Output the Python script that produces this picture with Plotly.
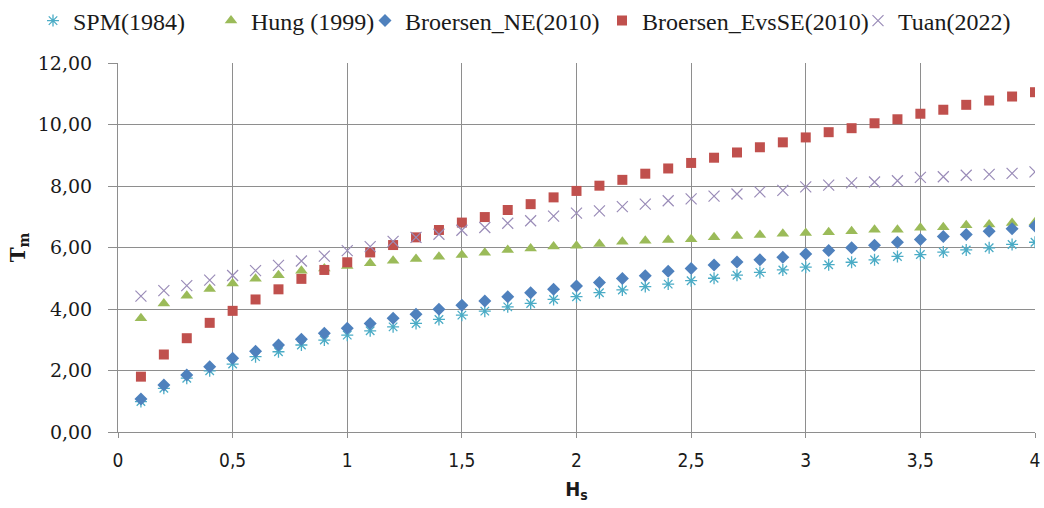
import plotly.graph_objects as go

hs = [round(0.1 * i, 1) for i in range(1, 41)]

spm = [0.99, 1.42, 1.75, 1.99, 2.21, 2.45, 2.61, 2.83, 2.99, 3.15, 3.29, 3.42,
       3.53, 3.66, 3.80, 3.93, 4.07, 4.18, 4.31, 4.40, 4.53, 4.62, 4.73, 4.81, 4.92, 5.00, 5.10,
       5.19, 5.27, 5.36, 5.44, 5.52, 5.60, 5.71, 5.77, 5.85, 5.92, 5.99, 6.10, 6.17]

hung = [3.70, 4.18, 4.43, 4.65, 4.83, 4.98, 5.10, 5.24, 5.32, 5.40, 5.49, 5.57,
        5.63, 5.70, 5.76, 5.83, 5.92, 5.97, 6.03, 6.06, 6.11, 6.19, 6.22, 6.24, 6.27, 6.33, 6.37,
        6.41, 6.45, 6.47, 6.50, 6.53, 6.58, 6.58, 6.64, 6.66, 6.72, 6.75, 6.80, 6.82]

broersen_ne = [1.07, 1.53, 1.85, 2.12, 2.40, 2.63, 2.83, 3.02, 3.21, 3.37, 3.53, 3.70,
               3.83, 3.99, 4.12, 4.26, 4.40, 4.53, 4.64, 4.75, 4.86, 4.99, 5.08, 5.23, 5.32, 5.43, 5.53,
               5.60, 5.68, 5.79, 5.90, 5.99, 6.07, 6.17, 6.26, 6.36, 6.42, 6.53, 6.61, 6.70]

broersen_evsse = [1.80, 2.52, 3.05, 3.55, 3.94, 4.31, 4.64, 4.98, 5.27, 5.52, 5.84, 6.08,
                  6.33, 6.57, 6.81, 6.99, 7.22, 7.41, 7.63, 7.84, 8.01, 8.20, 8.40, 8.57, 8.75, 8.92, 9.09,
                  9.26, 9.42, 9.58, 9.75, 9.88, 10.04, 10.17, 10.35, 10.48, 10.64, 10.78, 10.91, 11.05]

tuan = [4.42, 4.60, 4.76, 4.94, 5.09, 5.25, 5.42, 5.56, 5.72, 5.90, 6.03, 6.20,
        6.33, 6.43, 6.56, 6.65, 6.79, 6.87, 7.02, 7.12, 7.19, 7.33, 7.41, 7.52, 7.58, 7.67, 7.74,
        7.81, 7.86, 7.97, 8.03, 8.10, 8.13, 8.17, 8.28, 8.30, 8.35, 8.38, 8.41, 8.46]

x_ticks = [0, 0.5, 1, 1.5, 2, 2.5, 3, 3.5, 4]
x_tick_labels = ["0", "0,5", "1", "1,5", "2", "2,5", "3", "3,5", "4"]
y_ticks = [0, 2, 4, 6, 8, 10, 12]

series = [
    ("SPM(1984)", spm, "asterisk-open", "#4bacc6", 10, 1.3),
    ("Hung (1999)", hung, "triangle-up", "#9bbb59", 11, 0),
    ("Broersen_NE(2010)", broersen_ne, "diamond", "#4f81bd", 10, 0),
    ("Broersen_EvsSE(2010)", broersen_evsse, "square", "#c0504d", 10, 0),
    ("Tuan(2022)", tuan, "x-thin-open", "#9a8cb8", 11, 1.2),
]

# left pixel of each legend entry (symbol centre at ~ +20 px)
L, W, T, H = 118, 917, 63, 369
legend_left_px = [33, 211, 365, 602, 858]

fig = go.Figure()
legend_font = dict(family="Liberation Serif, Times New Roman, serif", size=24, color="#1a1a1a")
for i, (name, vals, sym, col, size, lw) in enumerate(series):
    marker = dict(symbol=sym, color=col, size=size)
    marker["line"] = dict(color=col, width=lw) if lw else dict(width=0)
    lg = "legend" if i == 0 else f"legend{i+1}"
    fig.add_trace(go.Scatter(x=hs, y=vals, mode="markers", name=name, marker=marker, legend=lg))
    fig.update_layout({lg: dict(orientation="h", x=(legend_left_px[i] - L) / W, xanchor="left",
                                y=1 + (T - 21) / H, yanchor="middle",
                                font=legend_font, bgcolor="rgba(0,0,0,0)",
                                borderwidth=0)})

grid = "#8e8e8e"
narrow = "Liberation Sans Narrow, DejaVu Sans Condensed, Liberation Sans, sans-serif"
fig.update_layout(
    width=1044, height=508,
    margin=dict(l=118, r=9, t=63, b=76, autoexpand=False),
    paper_bgcolor="white", plot_bgcolor="white",
    separators=",.",
    showlegend=True,
    xaxis=dict(range=[0, 4], tickvals=x_ticks, ticktext=x_tick_labels,
               showgrid=True, gridcolor=grid, gridwidth=1,
               showline=True, linecolor=grid, linewidth=1,
               ticks="outside", ticklen=5, tickcolor=grid,
               zeroline=False, ticklabelstandoff=6,
               tickfont=dict(family=narrow, size=19, color="#1a1a1a"),
               title=dict(text="<b>H<sub>s</sub></b>", standoff=12,
                          font=dict(family=narrow, size=20, color="#1a1a1a"))),
    yaxis=dict(range=[0, 12], tickvals=y_ticks, tickformat=".2f",
               showgrid=True, gridcolor=grid, gridwidth=1,
               showline=True, linecolor=grid, linewidth=1,
               ticks="outside", ticklen=9, tickcolor=grid,
               zeroline=False, ticklabelstandoff=12,
               tickfont=dict(family="DejaVu Serif, serif", size=19, color="#1a1a1a"),
               title=dict(text="<b>T<sub>m</sub></b>", standoff=6,
                          font=dict(family="DejaVu Serif, serif", size=20, color="#1a1a1a"))),
)
fig.write_html("out.html")
